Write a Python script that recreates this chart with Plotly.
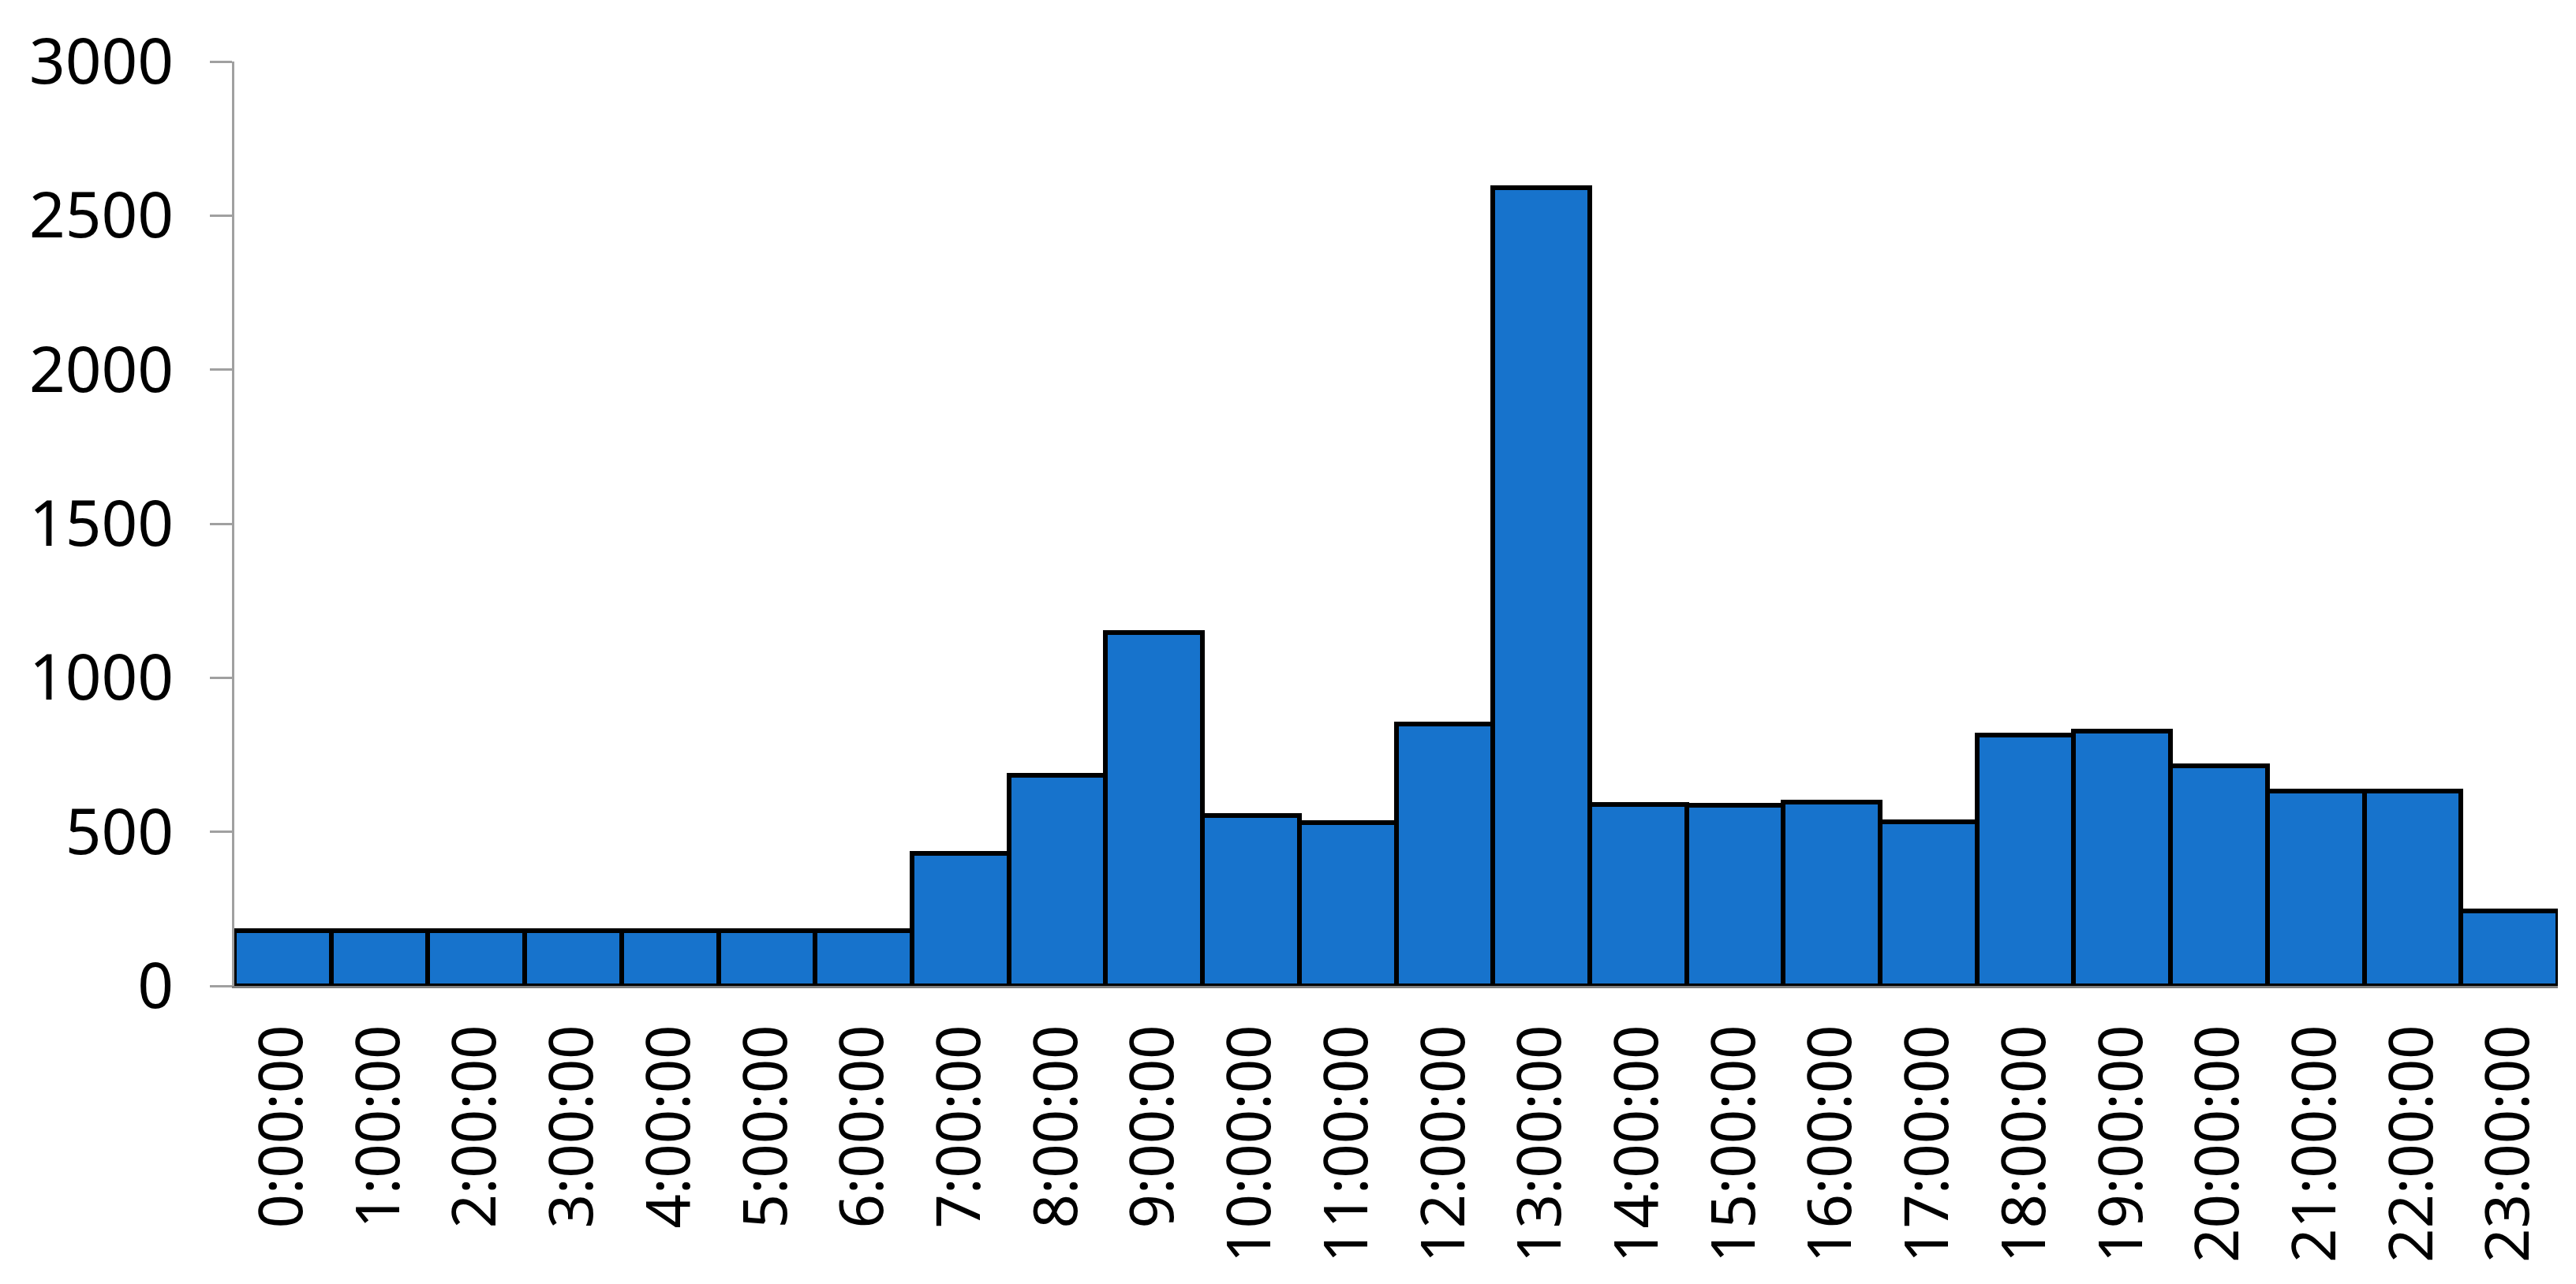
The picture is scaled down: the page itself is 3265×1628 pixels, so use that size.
import plotly.graph_objects as go

hours = [f"{h}:00:00" for h in range(24)]
counts = [180, 180, 180, 180, 180, 180, 180, 430, 683, 1146, 552, 529, 851, 2591,
          589, 587, 596, 532, 813, 828, 714, 631, 631, 243]
y_ticks = [0, 500, 1000, 1500, 2000, 2500, 3000]

fig = go.Figure(go.Bar(
    x=hours, y=counts,
    marker=dict(color="#1773CC", line=dict(color="black", width=6)),
))

font_family = "Noto Sans, Open Sans, sans-serif"
# page body has an 8px margin, so the figure is sized/offset to compensate
fig.update_layout(
    width=3249, height=1612,
    margin=dict(l=289, r=15, t=65, b=370),
    plot_bgcolor="white", paper_bgcolor="white",
    bargap=0,
    showlegend=False,
    font=dict(family=font_family, size=80, color="black"),
)
fig.update_xaxes(
    type="category",
    tickangle=-90,
    showline=True, linecolor="#7f7f7f", linewidth=3,
    ticks="", showgrid=False,
    tickfont=dict(size=76),
    ticklabelstandoff=16,
)
fig.update_yaxes(
    range=[0, 3000],
    tickvals=y_ticks,
    showline=True, linecolor="#a0a0a0", linewidth=3,
    ticks="outside", ticklen=28, tickwidth=3, tickcolor="#a0a0a0",
    showgrid=False, zeroline=False,
    tickfont=dict(size=80),
    ticklabelstandoff=30,
)

fig.write_html("out.html")
